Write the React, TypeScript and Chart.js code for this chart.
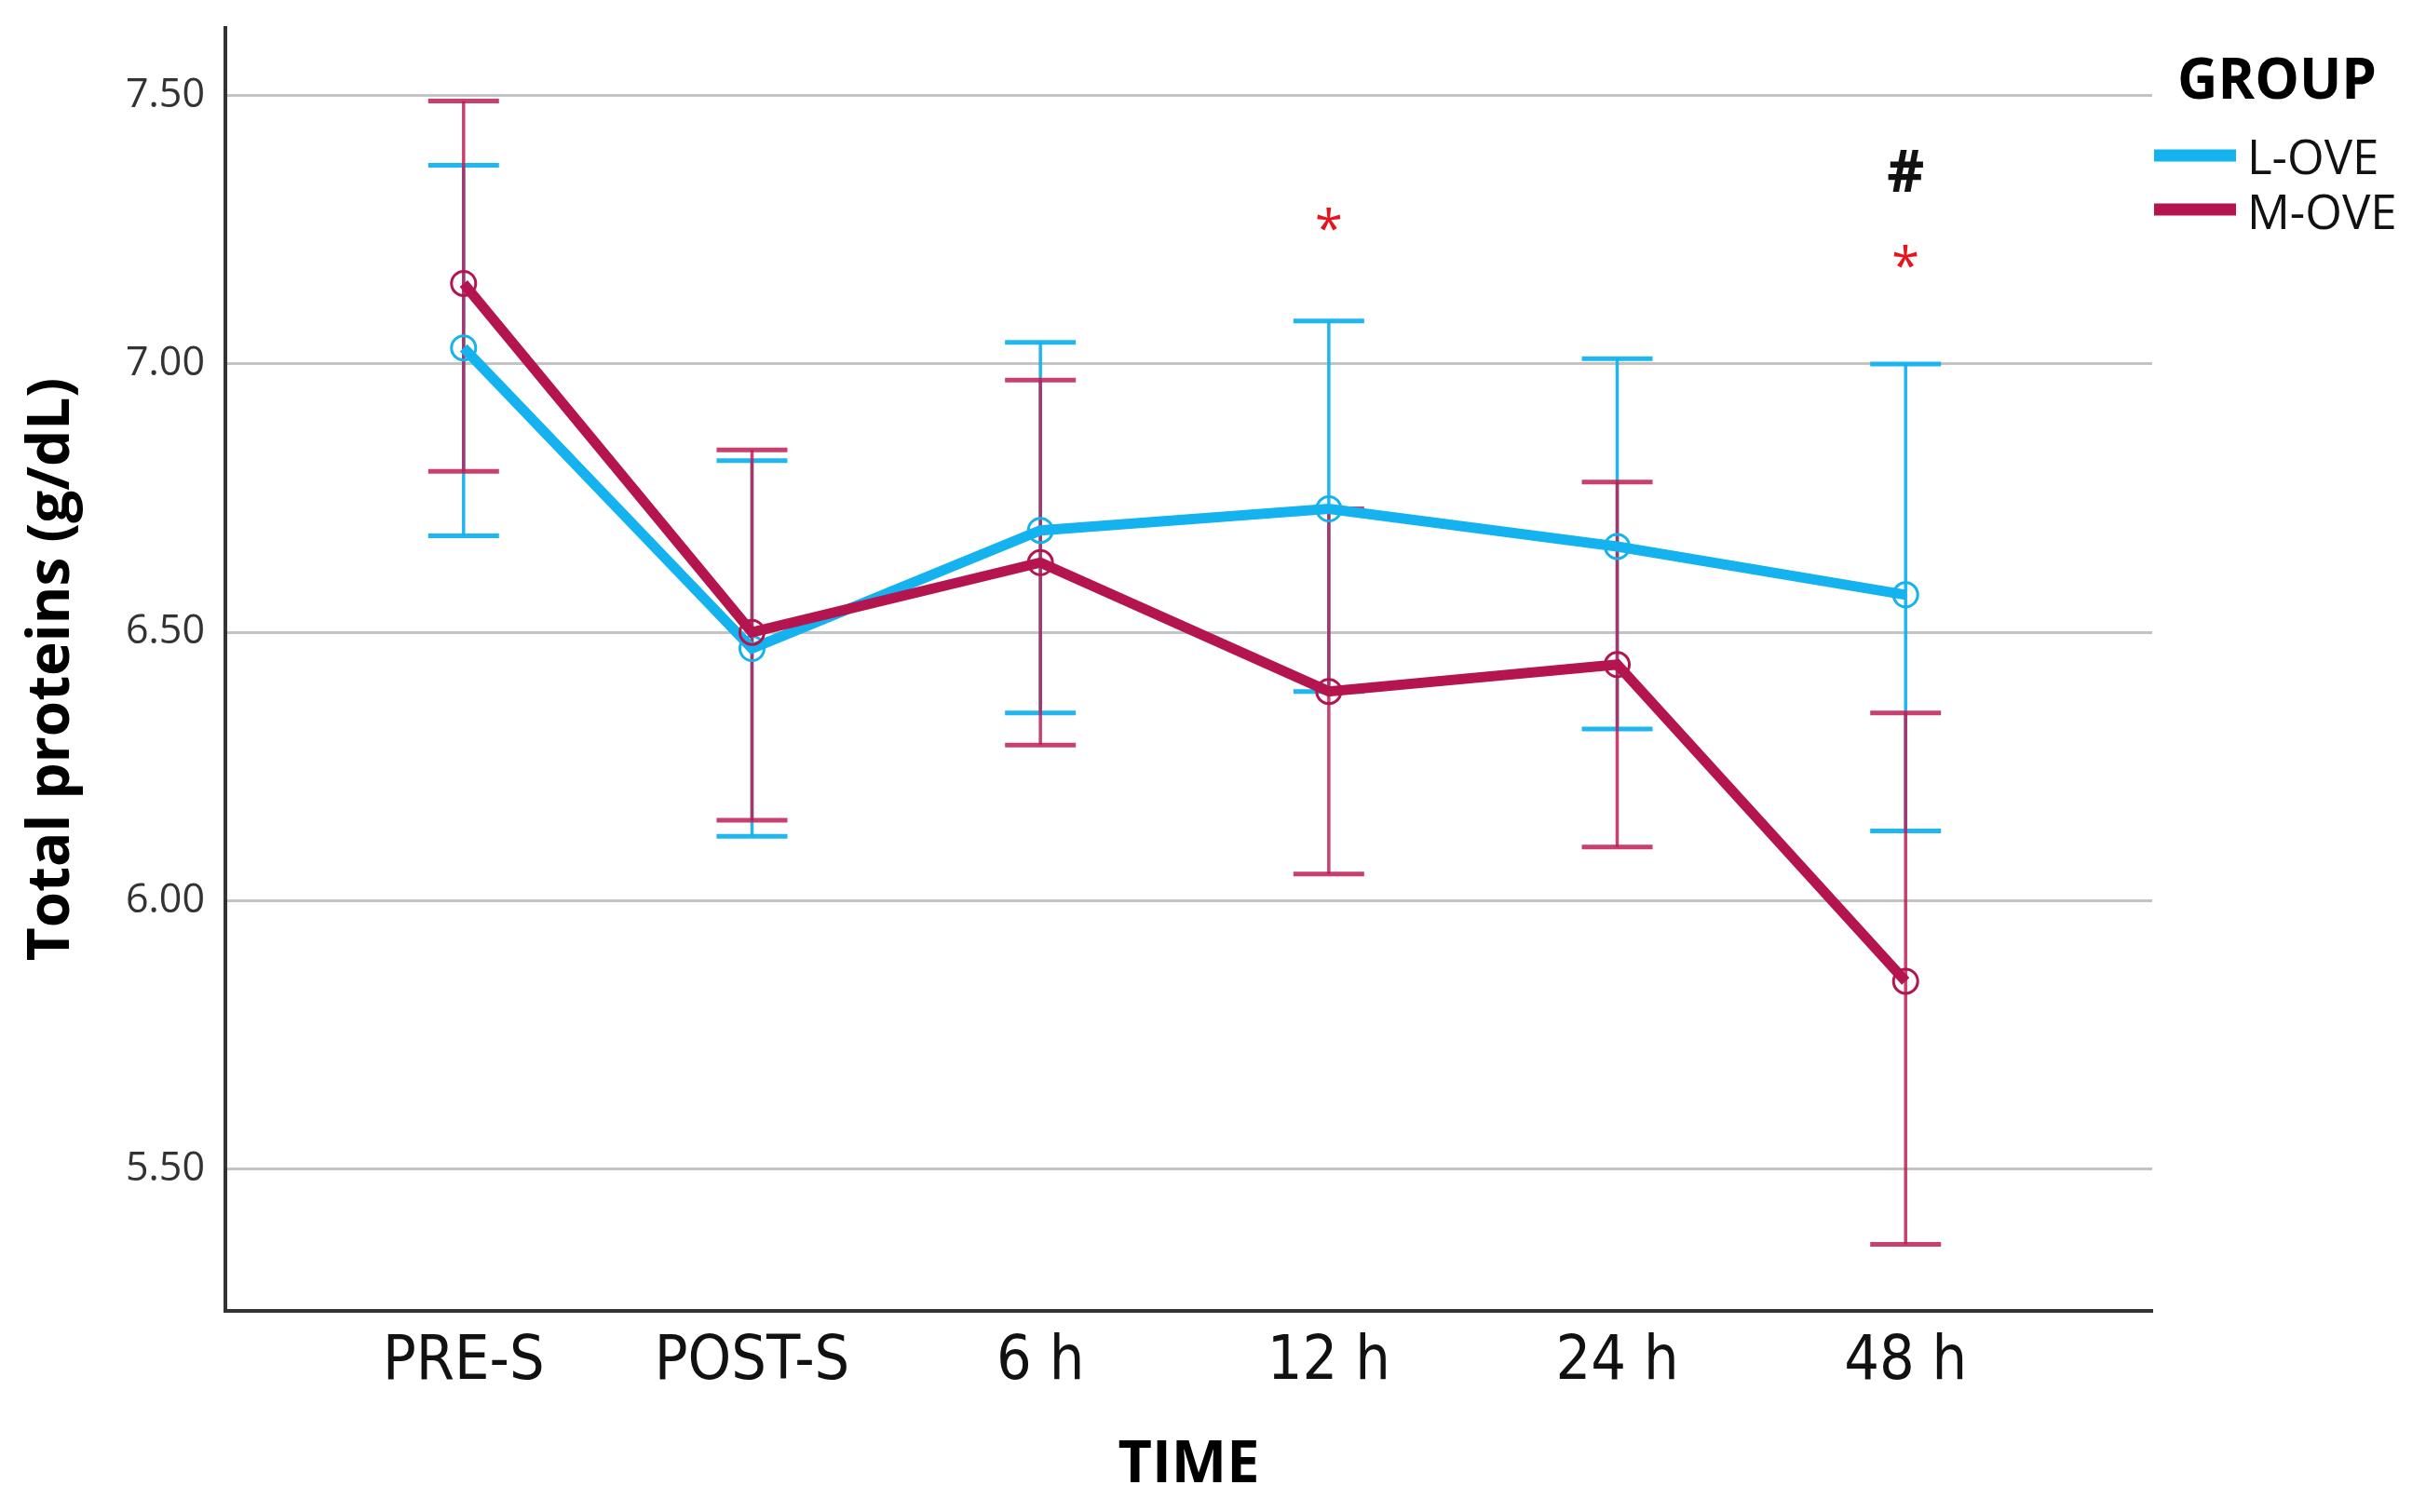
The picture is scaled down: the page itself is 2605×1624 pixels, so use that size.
import React, { useEffect, useRef } from 'react';
import { Chart, registerables } from 'chart.js';

Chart.register(...registerables);

// ---- data ----
const categories = ['PRE-S', 'POST-S', '6 h', '12 h', '24 h', '48 h'];
const groupNames = ['L-OVE', 'M-OVE'];
const lMean = [7.03, 6.47, 6.69, 6.73, 6.66, 6.57];
const lUpper = [7.37, 6.82, 7.04, 7.08, 7.01, 7.0];
const lLower = [6.68, 6.12, 6.35, 6.39, 6.32, 6.13];
const mMean = [7.15, 6.5, 6.63, 6.39, 6.44, 5.85];
const mUpper = [7.49, 6.84, 6.97, 6.73, 6.78, 6.35];
const mLower = [6.8, 6.15, 6.29, 6.05, 6.1, 5.36];
const yTickValues = [5.5, 6.0, 6.5, 7.0, 7.5];
const markIndex = [3, 5, 5];
const markValue = [7.27, 7.2, 7.36];
const markText = ['*', '*', '#'];

// ---- styles ----
const BLUE = '#14B2EE';
const MAGENTA = '#B5154F';
const BLUE_BAR = 'rgba(20,178,238,0.95)';
const MAGENTA_BAR = 'rgba(190,30,85,0.85)';
const MARK_COLORS = ['#E8141C', '#E8141C', '#111111'];

export default function App() {
  const ref = useRef<HTMLCanvasElement>(null);

  useEffect(() => {
    document.body.style.margin = '0';
    const canvas = ref.current!;

    const errorBars = {
      id: 'errorBars',
      beforeDatasetsDraw(chart: any) {
        const { ctx, scales } = chart;
        const xs = scales.x;
        const ys = scales.y;
        const series = [
          { up: lUpper, lo: lLower, color: BLUE_BAR },
          { up: mUpper, lo: mLower, color: MAGENTA_BAR },
        ];
        ctx.save();
        ctx.lineCap = 'butt';
        series.forEach((s) => {
          ctx.strokeStyle = s.color;
          s.up.forEach((u, i) => {
            const x = xs.getPixelForValue(i);
            const yt = ys.getPixelForValue(u);
            const yb = ys.getPixelForValue(s.lo[i]);
            ctx.lineWidth = 3.5;
            ctx.beginPath();
            ctx.moveTo(x, yt);
            ctx.lineTo(x, yb);
            ctx.stroke();
            ctx.lineWidth = 5;
            ctx.beginPath();
            ctx.moveTo(x - 38, yt);
            ctx.lineTo(x + 38, yt);
            ctx.moveTo(x - 38, yb);
            ctx.lineTo(x + 38, yb);
            ctx.stroke();
          });
        });
        ctx.restore();
      },
    };

    const marksAndLegend = {
      id: 'marksAndLegend',
      afterDatasetsDraw(chart: any) {
        const { ctx, scales } = chart;
        ctx.save();
        // significance marks
        markText.forEach((t, k) => {
          const x = scales.x.getPixelForValue(markIndex[k]);
          const y = scales.y.getPixelForValue(markValue[k]);
          ctx.font = t === '#' ? 'bold 62px "Open Sans"' : '54px "Open Sans"';
          ctx.fillStyle = MARK_COLORS[k];
          ctx.textAlign = 'center';
          ctx.textBaseline = 'alphabetic';
          const m = ctx.measureText(t);
          const base = y + (m.actualBoundingBoxAscent - m.actualBoundingBoxDescent) / 2;
          ctx.fillText(t, x, base);
        });
        // legend
        const right = chart.chartArea.right;
        ctx.fillStyle = '#000';
        ctx.textAlign = 'center';
        ctx.font = 'bold 60px "Open Sans"';
        ctx.fillText('GROUP', right + 134, 106);
        const colors = [BLUE, MAGENTA];
        const lineY = [167, 225];
        const textY = [187, 246];
        groupNames.forEach((g, k) => {
          ctx.strokeStyle = colors[k];
          ctx.lineWidth = 13;
          ctx.beginPath();
          ctx.moveTo(right + 2, lineY[k]);
          ctx.lineTo(right + 90, lineY[k]);
          ctx.stroke();
          ctx.fillStyle = '#111';
          ctx.textAlign = 'left';
          ctx.font = '51px "Open Sans"';
          ctx.fillText(g, right + 102, textY[k]);
        });
        ctx.restore();
      },
    };

    const lineDs = (label: string, vals: number[], color: string, order: number) => ({
      label,
      data: vals.map((y, i) => ({ x: i, y })),
      borderColor: color,
      borderWidth: 11,
      pointRadius: 13,
      pointBorderWidth: 3,
      pointBorderColor: color,
      pointBackgroundColor: 'rgba(0,0,0,0)',
      fill: false,
      tension: 0,
      order,
    });

    const chart = new Chart(canvas, {
      type: 'line',
      data: {
        datasets: [
          lineDs(groupNames[0], lMean, BLUE, 1),
          lineDs(groupNames[1], mMean, MAGENTA, 0),
        ],
      },
      options: {
        animation: false,
        responsive: false,
        devicePixelRatio: 1,
        layout: { padding: { top: 30, right: 294, bottom: 0, left: 0 } },
        plugins: {
          legend: { display: false },
          tooltip: { enabled: false },
        },
        scales: {
          x: {
            type: 'linear',
            min: -0.826,
            max: 5.855,
            afterBuildTicks: (s: any) => {
              s.ticks = categories.map((_, i) => ({ value: i }));
            },
            afterFit: (s: any) => {
              s.height = 216;
              s.paddingLeft = 0;
              s.paddingRight = 0;
            },
            grid: { display: false, drawTicks: false },
            border: { display: true, color: '#333', width: 4 },
            ticks: {
              autoSkip: false,
              maxRotation: 0,
              callback: (_v: any, i: number) => categories[i],
              font: { family: '"DejaVu Sans Condensed", sans-serif', size: 66 },
              color: '#111',
              padding: 16,
            },
            title: {
              display: true,
              text: 'TIME',
              font: { family: '"Open Sans"', size: 63, weight: 'bold' },
              color: '#000',
              padding: { top: 0, bottom: 12 },
            },
          },
          y: {
            type: 'linear',
            min: 5.236,
            max: 7.626,
            afterBuildTicks: (s: any) => {
              s.ticks = yTickValues.map((v) => ({ value: v }));
            },
            afterFit: (s: any) => {
              s.width = 242;
              s.paddingTop = 0;
              s.paddingBottom = 0;
            },
            grid: { color: '#c4c4c4', lineWidth: 3, drawTicks: false },
            border: { display: true, color: '#333', width: 4 },
            ticks: {
              callback: (v: any) => Number(v).toFixed(2),
              font: { family: '"Open Sans"', size: 43 },
              color: '#333',
              padding: 22,
            },
            title: {
              display: true,
              text: 'Total proteins (g/dL)',
              font: { family: '"Open Sans"', size: 62, weight: 'bold' },
              color: '#000',
              padding: { top: 19, bottom: 0 },
            },
          },
        },
      },
      plugins: [errorBars, marksAndLegend],
    } as any);

    return () => chart.destroy();
  }, []);

  return (
    <div style={{ width: 2605, height: 1624, background: '#fff' }}>
      <canvas ref={ref} width={2605} height={1624} style={{ width: 2605, height: 1624, display: 'block' }} />
    </div>
  );
}
